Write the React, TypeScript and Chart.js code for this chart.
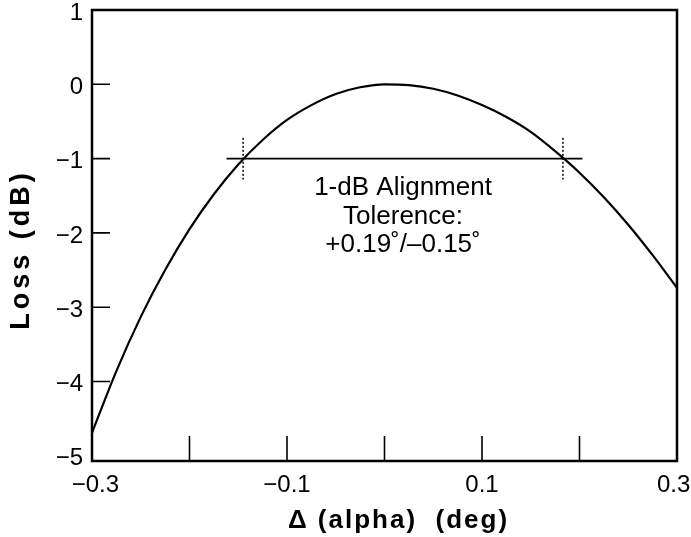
import React, { useEffect, useRef } from 'react';
import { Chart, registerables } from 'chart.js';

Chart.register(...registerables);

// Curve: misalignment angle (deg) vs loss (dB)
const alphaDeg = [
  -0.3, -0.275, -0.25, -0.225, -0.2, -0.175, -0.15, -0.125, -0.1, -0.075,
  -0.05, -0.025, 0, 0.025, 0.05, 0.075, 0.1, 0.125, 0.15, 0.175,
  0.2, 0.225, 0.25, 0.275, 0.3,
];
const lossDb = [
  -4.69, -3.86, -3.13, -2.5, -1.95, -1.48, -1.08, -0.75, -0.48, -0.28,
  -0.13, -0.04, 0.0, -0.01, -0.06, -0.15, -0.28, -0.44, -0.64, -0.9,
  -1.19, -1.52, -1.89, -2.3, -2.74,
];

// Axis ticks
const xTickValues = [-0.3, -0.2, -0.1, 0, 0.1, 0.2, 0.3];
const xTickLabels = [' −0.3', '', '−0.1', '', '0.1', '', '0.3 '];
const xMarkTicks = [-0.2, -0.1, 0, 0.1, 0.2];
const yTickValues = [1, 0, -1, -2, -3, -4, -5];
const yTickLabels = ['1', '0', '−1', '−2', '−3', '−4', '−5'];
const yMarkTicks = [0, -1, -2, -3, -4];

// 1-dB tolerance annotation
const toleranceLevel = -1;
const toleranceLineX = [-0.162, 0.203];
const toleranceEdges = [-0.145, 0.183];
const markerHalfHeight = 0.28;
const annotationLines = ['1-dB Alignment', 'Tolerence:', '+0.19˚/–0.15˚'];
const annotationAnchor = { x: 0.019, y: -1.49 };

const xTitle = 'Δ (alpha)  (deg)';
const yTitle = 'Loss (dB)';

const FONT = '"Liberation Sans", Arial, Helvetica, sans-serif';

export default function App() {
  const ref = useRef<HTMLCanvasElement | null>(null);

  useEffect(() => {
    const canvas = ref.current;
    if (!canvas) return;

    const framePlugin = {
      id: 'frame',
      afterDraw(chart: any) {
        const { ctx, chartArea } = chart;
        const xs = chart.scales.x;
        const ys = chart.scales.y;
        const { left, right, top, bottom } = chartArea;
        ctx.save();
        ctx.strokeStyle = '#000';
        // box
        ctx.lineWidth = 2.5;
        ctx.strokeRect(left, top, right - left, bottom - top);
        // inward tick marks
        ctx.lineWidth = 1.6;
        ctx.beginPath();
        yMarkTicks.forEach((v) => {
          const py = ys.getPixelForValue(v);
          ctx.moveTo(left, py);
          ctx.lineTo(left + 18, py);
        });
        xMarkTicks.forEach((v) => {
          const px = xs.getPixelForValue(v);
          ctx.moveTo(px, bottom);
          ctx.lineTo(px, bottom - 25);
        });
        ctx.stroke();

        // annotation text
        ctx.fillStyle = '#000';
        ctx.font = `26px ${FONT}`;
        ctx.textAlign = 'center';
        ctx.textBaseline = 'alphabetic';
        const ax = xs.getPixelForValue(annotationAnchor.x);
        const ay = ys.getPixelForValue(annotationAnchor.y);
        annotationLines.forEach((t, i) => {
          ctx.fillText(t, ax, ay + i * 28.5);
        });

        // axis titles
        ctx.textBaseline = 'middle';
        ctx.font = `bold 26px ${FONT}`;
        (ctx as any).letterSpacing = '2px';
        ctx.fillText(xTitle, (left + right) / 2 + 14, 521);

        ctx.translate(22, (top + bottom) / 2 + 14);
        ctx.rotate(-Math.PI / 2);
        ctx.font = `bold 27px ${FONT}`;
        (ctx as any).letterSpacing = '4px';
        ctx.fillText(yTitle, 0, 0);
        ctx.restore();
      },
    };

    const chart = new Chart(canvas, {
      type: 'scatter',
      data: {
        datasets: [
          {
            data: alphaDeg.map((x, i) => ({ x, y: lossDb[i] })),
            showLine: true,
            borderColor: '#000',
            borderWidth: 2.2,
            pointRadius: 0,
            cubicInterpolationMode: 'monotone',
          },
          {
            data: toleranceLineX.map((x) => ({ x, y: toleranceLevel })),
            showLine: true,
            borderColor: '#000',
            borderWidth: 1.6,
            pointRadius: 0,
          },
          ...toleranceEdges.map((x) => ({
            data: [
              { x, y: toleranceLevel + markerHalfHeight },
              { x, y: toleranceLevel - markerHalfHeight },
            ],
            showLine: true,
            borderColor: '#000',
            borderWidth: 1.5,
            borderDash: [2, 2],
            pointRadius: 0,
          })),
        ],
      },
      options: {
        responsive: false,
        animation: false,
        devicePixelRatio: 1,
        layout: { padding: { top: 10, right: 14, bottom: 0, left: 0 } },
        plugins: { legend: { display: false }, tooltip: { enabled: false } },
        scales: {
          x: {
            type: 'linear',
            min: -0.3,
            max: 0.3,
            grid: { display: false, drawTicks: false },
            border: { display: false },
            afterBuildTicks: (s: any) => {
              s.ticks = xTickValues.map((value) => ({ value }));
            },
            afterFit: (s: any) => {
              s.height = 76;
              s.paddingLeft = 0;
              s.paddingRight = 0;
            },
            ticks: {
              autoSkip: false,
              maxRotation: 0,
              padding: 10,
              color: '#000',
              font: { family: FONT, size: 24 },
              callback: (_v: any, i: number) => xTickLabels[i],
            },
          },
          y: {
            type: 'linear',
            min: -5.07,
            max: 1,
            grid: { display: false, drawTicks: false },
            border: { display: false },
            afterBuildTicks: (s: any) => {
              s.ticks = yTickValues.map((value) => ({ value }));
            },
            afterFit: (s: any) => {
              s.width = 92;
              s.paddingTop = 0;
              s.paddingBottom = 0;
            },
            ticks: {
              autoSkip: false,
              padding: 9,
              labelOffset: 3,
              color: '#000',
              font: { family: FONT, size: 24 },
              callback: (_v: any, i: number) => yTickLabels[i],
            },
          },
        },
      },
      plugins: [framePlugin],
    } as any);

    return () => chart.destroy();
  }, []);

  return (
    <div style={{ position: 'fixed', left: 0, top: 0, width: 691, height: 537, background: '#fff' }}>
      <canvas ref={ref} width={691} height={537} style={{ width: 691, height: 537 }} />
    </div>
  );
}
